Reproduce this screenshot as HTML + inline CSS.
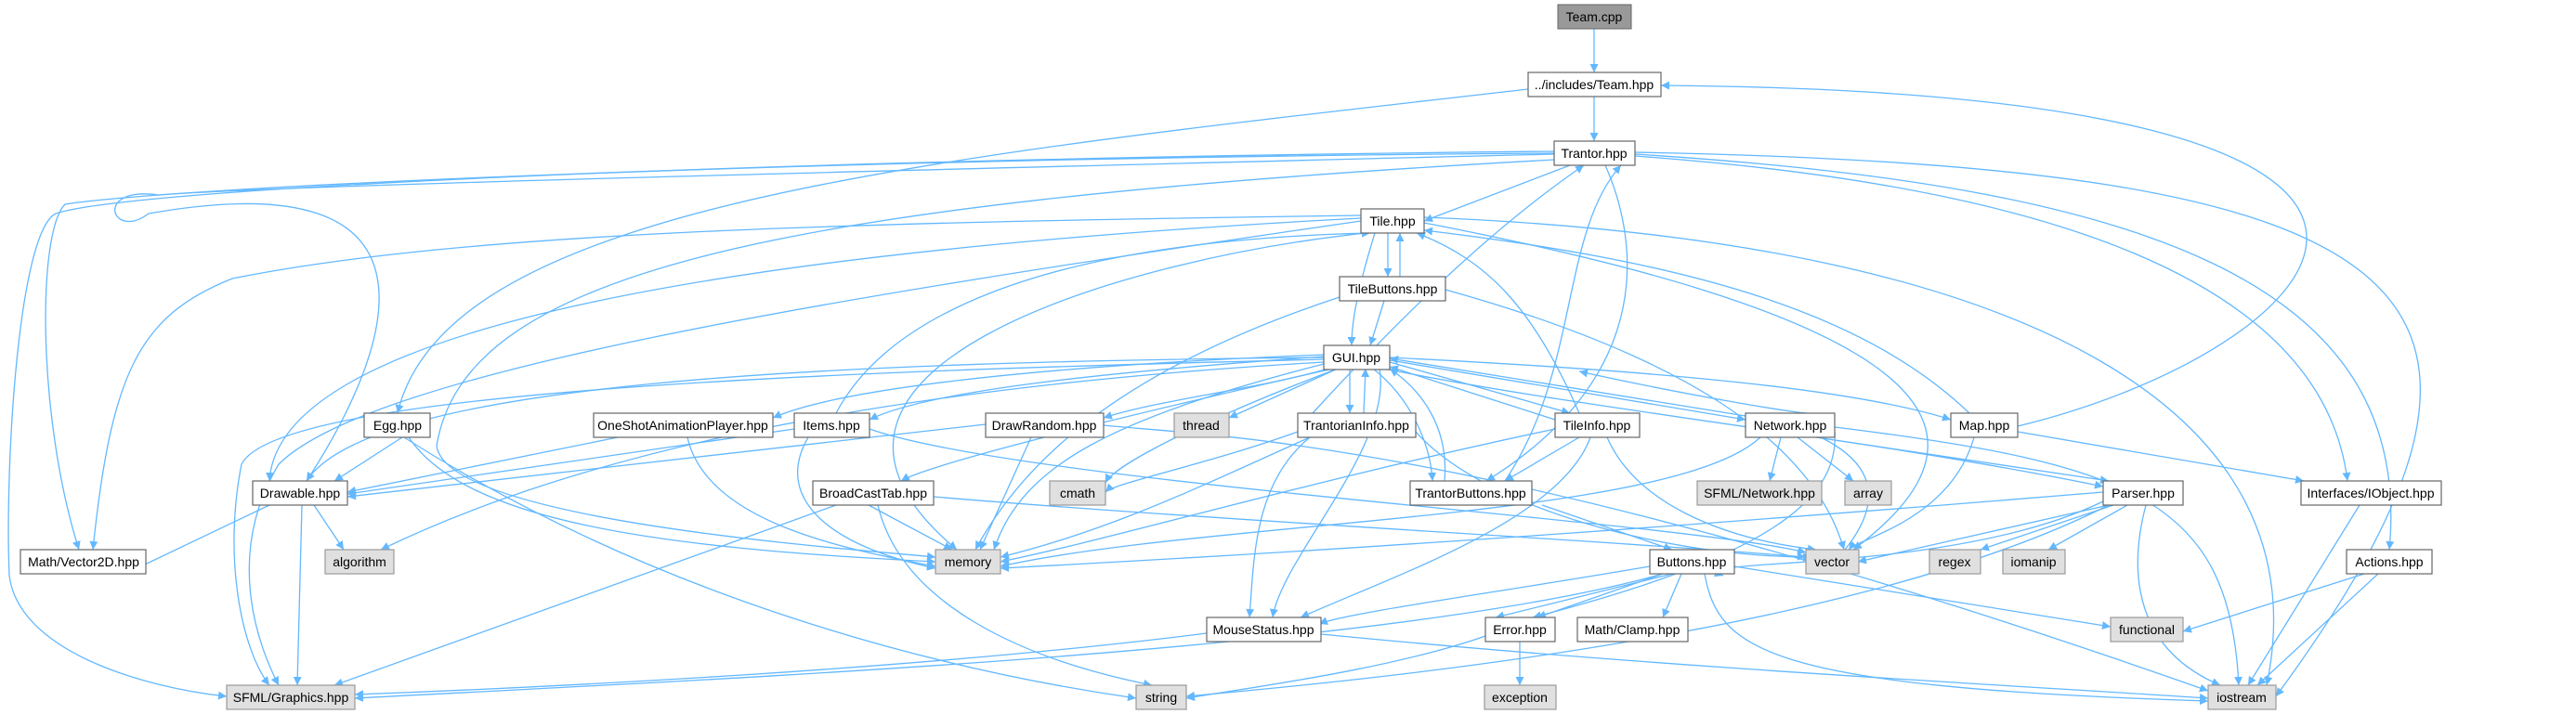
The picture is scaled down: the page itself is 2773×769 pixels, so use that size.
<!DOCTYPE html>
<html><head><meta charset="utf-8"><style>
html,body{margin:0;padding:0;background:#fff;}
svg{display:block;}
text{font-family:"Liberation Sans",sans-serif;font-size:14px;text-anchor:middle;fill:#000;}
.e{fill:none;stroke:#63b8ff;stroke-width:1.3;}
.n{fill:#fff;stroke:#666;stroke-width:1.2;}
.g{fill:#e0e0e0;stroke:#999;stroke-width:1.2;}
</style></head><body>
<svg width="2773" height="769" viewBox="0 0 2773 769" xmlns="http://www.w3.org/2000/svg">
<defs><marker id="a" viewBox="0 0 10 10" refX="10" refY="5" markerWidth="9" markerHeight="9" markerUnits="userSpaceOnUse" orient="auto"><path d="M0,0 L10,5 L0,10 z" fill="#63b8ff"/></marker></defs>
<g class="e" marker-end="url(#a)">
<path d="M1716 31 L1716 78"/>
<path d="M1716 104 L1716 152"/>
<path d="M1645 96 C1000 170 480 220 428 445"/>
<path d="M2172 459 C2500 380 2800 100 1788 92"/>
<path d="M1690 178 L1533 238"/>
<path d="M1673 163 C900 170 150 200 60 230 C20 250 5 500 10 620 C20 700 150 740 244 750"/>
<path d="M1673 165 C900 170 200 200 70 220 C40 250 40 450 85 592"/>
<path d="M1673 166 C900 185 300 200 170 210 C100 200 120 260 160 230 C500 170 420 380 330 518"/>
<path d="M1673 172 C800 220 500 300 470 480 C480 560 900 590 1007 600"/>
<path d="M1728 178 C1760 250 1790 400 1600 518"/>
<path d="M1620 518 C1700 400 1680 250 1745 178"/>
<path d="M1413 445 C1500 350 1600 250 1705 178"/>
<path d="M1760 168 C2200 200 2500 300 2527 518"/>
<path d="M1760 166 C2300 200 2600 300 2572 592"/>
<path d="M1760 164 C2600 180 2780 300 2450 750"/>
<path d="M1494 251 L1494 298"/>
<path d="M1507 298 L1507 251"/>
<path d="M1480 251 C1465 300 1455 340 1455 372"/>
<path d="M1490 324 L1475 372"/>
<path d="M1465 232 C900 240 500 250 250 300 C150 340 120 400 100 592"/>
<path d="M1465 235 C800 270 300 350 290 518"/>
<path d="M1465 238 C900 320 400 400 300 500 C240 600 280 700 300 738"/>
<path d="M1470 251 C1200 280 800 400 1030 592"/>
<path d="M1533 240 C2000 330 2200 440 1995 592"/>
<path d="M1533 234 C2200 260 2500 450 2440 738"/>
<path d="M900 445 C950 350 1100 260 1475 251"/>
<path d="M1700 445 C1650 330 1600 280 1525 251"/>
<path d="M2120 445 C2000 330 1800 280 1533 248"/>
<path d="M1442 320 C1200 400 1100 500 1050 592"/>
<path d="M1556 312 C1800 380 1950 470 1985 592"/>
<path d="M1425 385 C900 390 400 410 330 518"/>
<path d="M1425 387 C900 400 300 420 260 500 C240 600 260 700 290 738"/>
<path d="M1425 390 C900 420 600 500 410 592"/>
<path d="M1425 392 C1200 450 1100 500 1070 592"/>
<path d="M1425 382 C1100 395 900 420 832 450"/>
<path d="M1425 384 C1200 400 1000 420 936 452"/>
<path d="M1430 397 C1350 420 1250 430 1188 450"/>
<path d="M1440 397 L1323 450"/>
<path d="M1435 397 C1200 450 1000 500 970 518"/>
<path d="M1440 397 C1300 450 1200 500 1190 520"/>
<path d="M1453 397 L1453 445"/>
<path d="M1468 445 L1470 397"/>
<path d="M1496 390 L1690 445"/>
<path d="M1674 452 L1496 395"/>
<path d="M1496 388 L1879 452"/>
<path d="M1879 448 L1496 386"/>
<path d="M1496 385 C1800 400 2000 420 2100 452"/>
<path d="M1478 397 C1520 430 1540 480 1542 518"/>
<path d="M1555 518 C1560 460 1530 420 1496 397"/>
<path d="M1485 397 C1500 480 1380 600 1370 665"/>
<path d="M1490 397 C1700 440 2000 470 2264 524"/>
<path d="M1397 465 C1300 500 1200 520 1190 530"/>
<path d="M1410 471 C1350 520 1350 600 1345 665"/>
<path d="M1410 471 C1300 520 1200 570 1077 600"/>
<path d="M1524 465 C1600 550 1800 600 1950 600"/>
<path d="M1700 471 L1620 518"/>
<path d="M1674 462 C1400 520 1200 580 1077 605"/>
<path d="M1712 471 C1680 560 1500 620 1400 665"/>
<path d="M1730 471 C1760 540 1850 580 1955 592"/>
<path d="M1960 445 C1950 450 1790 420 1700 400"/>
<path d="M1917 471 L1905 518"/>
<path d="M1935 471 L1995 518"/>
<path d="M1955 471 L2270 518"/>
<path d="M1960 471 C2100 540 1900 650 1995 605"/>
<path d="M1975 460 C2300 500 2400 540 2410 738"/>
<path d="M1895 471 C1800 560 1300 560 1077 610"/>
<path d="M1975 465 C1980 540 1900 600 1650 665"/>
<path d="M2125 471 C2100 560 2000 580 1990 592"/>
<path d="M2172 465 L2480 518"/>
<path d="M2264 530 C1900 560 1500 590 1077 612"/>
<path d="M2270 544 L2000 605"/>
<path d="M2275 544 L2132 592"/>
<path d="M2290 544 L2205 592"/>
<path d="M2310 544 C2290 620 2300 700 2390 738"/>
<path d="M2264 540 C2100 620 1800 600 1855 620"/>
<path d="M2270 544 C2000 680 1500 730 1277 750"/>
<path d="M1660 544 L1800 592"/>
<path d="M2540 544 L2420 738"/>
<path d="M2545 618 L2350 680"/>
<path d="M2560 618 L2430 738"/>
<path d="M1776 610 C1600 640 1450 660 1420 672"/>
<path d="M1790 618 L1655 665"/>
<path d="M1800 618 L1610 665"/>
<path d="M1810 618 L1790 665"/>
<path d="M1867 610 L2272 675"/>
<path d="M1835 618 C1850 700 1900 740 2377 755"/>
<path d="M1790 618 C1500 700 800 730 382 752"/>
<path d="M1636 691 L1636 738"/>
<path d="M1599 685 C1500 720 1350 740 1277 752"/>
<path d="M1299 682 C1000 720 600 740 382 748"/>
<path d="M1422 683 C1800 720 2200 740 2377 752"/>
<path d="M433 471 L360 518"/>
<path d="M440 471 C500 560 700 590 1007 605"/>
<path d="M435 471 C700 640 1000 720 1223 752"/>
<path d="M665 471 L374 530"/>
<path d="M740 471 C760 560 900 590 1007 610"/>
<path d="M855 462 L374 532"/>
<path d="M870 471 C830 540 900 590 1007 612"/>
<path d="M936 462 C1100 520 1800 560 1944 595"/>
<path d="M1061 457 L374 535"/>
<path d="M1110 471 L1055 592"/>
<path d="M1188 458 C1300 470 1600 470 2377 744"/>
<path d="M900 544 L360 738"/>
<path d="M935 544 L1025 592"/>
<path d="M945 544 C970 650 1100 710 1240 738"/>
<path d="M1005 535 C1300 560 1700 580 1944 600"/>
<path d="M290 544 L135 618"/>
<path d="M325 544 L320 738"/>
<path d="M338 544 L370 592"/>
</g>
<g>
<rect x="1677" y="5" width="79" height="26" fill="#999" stroke="#666"/><text x="1716" y="23">Team.cpp</text>
<rect class="n" x="1645" y="78" width="143" height="26"/><text x="1716" y="96">../includes/Team.hpp</text>
<rect class="n" x="1673" y="152" width="87" height="26"/><text x="1716" y="170">Trantor.hpp</text>
<rect class="n" x="1465" y="225" width="68" height="26"/><text x="1499" y="243">Tile.hpp</text>
<rect class="n" x="1442" y="298" width="114" height="26"/><text x="1499" y="316">TileButtons.hpp</text>
<rect class="n" x="1425" y="372" width="71" height="26"/><text x="1460" y="390">GUI.hpp</text>
<rect class="n" x="392" y="445" width="71" height="26"/><text x="428" y="463">Egg.hpp</text>
<rect class="n" x="639" y="445" width="193" height="26"/><text x="735" y="463">OneShotAnimationPlayer.hpp</text>
<rect class="n" x="855" y="445" width="81" height="26"/><text x="895" y="463">Items.hpp</text>
<rect class="n" x="1061" y="445" width="127" height="26"/><text x="1124" y="463">DrawRandom.hpp</text>
<rect class="g" x="1264" y="445" width="59" height="26"/><text x="1293" y="463">thread</text>
<rect class="n" x="1397" y="445" width="127" height="26"/><text x="1460" y="463">TrantorianInfo.hpp</text>
<rect class="n" x="1674" y="445" width="91" height="26"/><text x="1719" y="463">TileInfo.hpp</text>
<rect class="n" x="1879" y="445" width="96" height="26"/><text x="1927" y="463">Network.hpp</text>
<rect class="n" x="2100" y="445" width="72" height="26"/><text x="2136" y="463">Map.hpp</text>
<rect class="n" x="272" y="518" width="102" height="26"/><text x="323" y="536">Drawable.hpp</text>
<rect class="n" x="875" y="518" width="130" height="26"/><text x="940" y="536">BroadCastTab.hpp</text>
<rect class="g" x="1130" y="518" width="60" height="26"/><text x="1160" y="536">cmath</text>
<rect class="n" x="1518" y="518" width="131" height="26"/><text x="1583" y="536">TrantorButtons.hpp</text>
<rect class="g" x="1827" y="518" width="134" height="26"/><text x="1894" y="536">SFML/Network.hpp</text>
<rect class="g" x="1986" y="518" width="50" height="26"/><text x="2011" y="536">array</text>
<rect class="n" x="2264" y="518" width="86" height="26"/><text x="2307" y="536">Parser.hpp</text>
<rect class="n" x="2477" y="518" width="151" height="26"/><text x="2552" y="536">Interfaces/IObject.hpp</text>
<rect class="n" x="22" y="592" width="135" height="26"/><text x="90" y="610">Math/Vector2D.hpp</text>
<rect class="g" x="350" y="592" width="74" height="26"/><text x="387" y="610">algorithm</text>
<rect class="g" x="1007" y="592" width="70" height="26"/><text x="1042" y="610">memory</text>
<rect class="n" x="1776" y="592" width="91" height="26"/><text x="1821" y="610">Buttons.hpp</text>
<rect class="g" x="1944" y="592" width="57" height="26"/><text x="1972" y="610">vector</text>
<rect class="g" x="2077" y="592" width="55" height="26"/><text x="2104" y="610">regex</text>
<rect class="g" x="2156" y="592" width="67" height="26"/><text x="2189" y="610">iomanip</text>
<rect class="n" x="2526" y="592" width="92" height="26"/><text x="2572" y="610">Actions.hpp</text>
<rect class="n" x="1299" y="665" width="123" height="26"/><text x="1360" y="683">MouseStatus.hpp</text>
<rect class="n" x="1599" y="665" width="75" height="26"/><text x="1636" y="683">Error.hpp</text>
<rect class="n" x="1698" y="665" width="119" height="26"/><text x="1757" y="683">Math/Clamp.hpp</text>
<rect class="g" x="2272" y="665" width="78" height="26"/><text x="2311" y="683">functional</text>
<rect class="g" x="244" y="738" width="138" height="26"/><text x="313" y="756">SFML/Graphics.hpp</text>
<rect class="g" x="1223" y="738" width="54" height="26"/><text x="1250" y="756">string</text>
<rect class="g" x="1598" y="738" width="77" height="26"/><text x="1636" y="756">exception</text>
<rect class="g" x="2377" y="738" width="73" height="26"/><text x="2413" y="756">iostream</text>
</g>
</svg>
</body></html>
